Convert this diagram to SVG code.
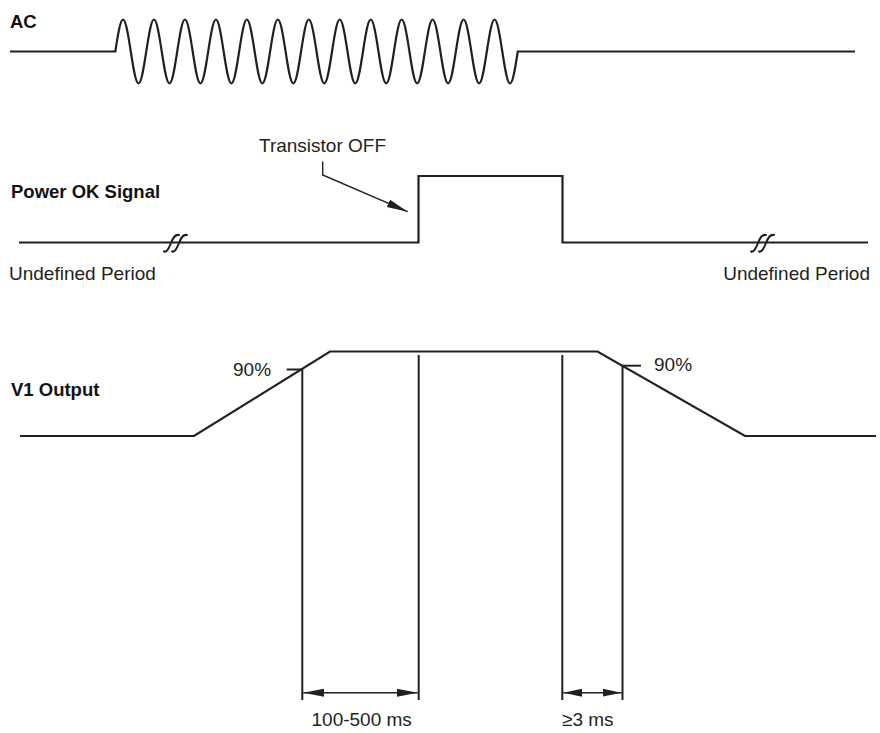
<svg xmlns="http://www.w3.org/2000/svg" width="880" height="733" viewBox="0 0 880 733">
  <defs>
    <style>
      .sig { fill: none; stroke: #231f20; stroke-width: 2.2; stroke-linejoin: miter; }
      .ln { fill: none; stroke: #231f20; stroke-width: 2; }
      .thin { fill: none; stroke: #231f20; stroke-width: 1.4; }
      .brk { fill: none; stroke: #231f20; stroke-width: 2; stroke-linecap: round; }
      .lbl { font-family: "Liberation Sans", Arial, sans-serif; font-size: 18.5px; font-weight: bold; fill: #111; }
      .txt { font-family: "Liberation Sans", Arial, sans-serif; font-size: 19px; fill: #231f20; }
    </style>
    <marker id="arr" markerUnits="userSpaceOnUse" markerWidth="22" markerHeight="10" refX="21" refY="4" orient="auto-start-reverse">
      <path d="M0,0 L21,4 L0,8 z" fill="#231f20"/>
    </marker>
    <marker id="arrs" markerUnits="userSpaceOnUse" markerWidth="20" markerHeight="10" refX="19" refY="4" orient="auto-start-reverse">
      <path d="M0,0 L19,4 L0,8 z" fill="#231f20"/>
    </marker>
  </defs>
  <rect width="880" height="733" fill="#ffffff"/>

  <g id="ac">
    <text class="lbl" x="10" y="28">AC</text>
    <path class="sig" d="M10,51.5 H115.3
      c2.72,-17.67 5.02,-32 7.74,-32 c2.72,0 5.02,14.33 7.74,32 c2.72,17.67 5.02,32 7.74,32 c2.72,0 5.02,-14.33 7.74,-32
      c2.72,-17.67 5.02,-32 7.74,-32 c2.72,0 5.02,14.33 7.74,32 c2.72,17.67 5.02,32 7.74,32 c2.72,0 5.02,-14.33 7.74,-32
      c2.72,-17.67 5.02,-32 7.74,-32 c2.72,0 5.02,14.33 7.74,32 c2.72,17.67 5.02,32 7.74,32 c2.72,0 5.02,-14.33 7.74,-32
      c2.72,-17.67 5.02,-32 7.74,-32 c2.72,0 5.02,14.33 7.74,32 c2.72,17.67 5.02,32 7.74,32 c2.72,0 5.02,-14.33 7.74,-32
      c2.72,-17.67 5.02,-32 7.74,-32 c2.72,0 5.02,14.33 7.74,32 c2.72,17.67 5.02,32 7.74,32 c2.72,0 5.02,-14.33 7.74,-32
      c2.72,-17.67 5.02,-32 7.74,-32 c2.72,0 5.02,14.33 7.74,32 c2.72,17.67 5.02,32 7.74,32 c2.72,0 5.02,-14.33 7.74,-32
      c2.72,-17.67 5.02,-32 7.74,-32 c2.72,0 5.02,14.33 7.74,32 c2.72,17.67 5.02,32 7.74,32 c2.72,0 5.02,-14.33 7.74,-32
      c2.72,-17.67 5.02,-32 7.74,-32 c2.72,0 5.02,14.33 7.74,32 c2.72,17.67 5.02,32 7.74,32 c2.72,0 5.02,-14.33 7.74,-32
      c2.72,-17.67 5.02,-32 7.74,-32 c2.72,0 5.02,14.33 7.74,32 c2.72,17.67 5.02,32 7.74,32 c2.72,0 5.02,-14.33 7.74,-32
      c2.72,-17.67 5.02,-32 7.74,-32 c2.72,0 5.02,14.33 7.74,32 c2.72,17.67 5.02,32 7.74,32 c2.72,0 5.02,-14.33 7.74,-32
      c2.72,-17.67 5.02,-32 7.74,-32 c2.72,0 5.02,14.33 7.74,32 c2.72,17.67 5.02,32 7.74,32 c2.72,0 5.02,-14.33 7.74,-32
      c2.72,-17.67 5.02,-32 7.74,-32 c2.72,0 5.02,14.33 7.74,32 c2.72,17.67 5.02,32 7.74,32 c2.72,0 5.02,-14.33 7.74,-32
      c2.72,-17.67 5.02,-32 7.74,-32 c2.72,0 5.02,14.33 7.74,32 c2.72,17.67 5.02,32 7.74,32 c2.72,0 5.02,-14.33 7.74,-32
      H855"/>
  </g>

  <g id="power-ok">
    <text class="lbl" x="11" y="198">Power OK Signal</text>
    <text class="txt" x="259" y="152">Transistor OFF</text>
    <path class="sig" d="M19,242.5 H418.5 V176 H562.5 V242.5 H868"/>
    <path class="brk" d="M164,251.5 C167,252.5 169,248 171,243 C173,238 175,234 179,235"/>
    <path class="brk" d="M172,251.5 C175,252.5 177,248 179,243 C181,238 183,234 187,235"/>
    <path class="brk" d="M751,251.5 C754,252.5 756,248 758,243 C760,238 762,234 766,235"/>
    <path class="brk" d="M759,251.5 C762,252.5 764,248 766,243 C768,238 770,234 774,235"/>
    <text class="txt" x="9" y="280">Undefined Period</text>
    <text class="txt" x="870" y="280" text-anchor="end">Undefined Period</text>
  </g>

  <g id="v1-output">
    <text class="lbl" x="11" y="396">V1 Output</text>
    <path class="sig" d="M20,436 H194 L330,351.5 H597.5 L745,436 H876"/>
    <path class="ln" d="M286.7,369.5 H302.5"/>
    <path class="ln" d="M622.5,365.7 H641"/>
    <text class="txt" x="233" y="376">90%</text>
    <text class="txt" x="654" y="371">90%</text>
  </g>

  <g id="connectors">
    <path class="ln" d="M302.3,369 V700"/>
    <path class="ln" d="M418.7,355 V700"/>
    <path class="ln" d="M562.3,355 V700"/>
    <path class="ln" d="M622.5,365.7 V700"/>
    <path class="thin" d="M322.7,161.5 V175 L407.7,211.7" marker-end="url(#arr)"/>
    <path class="thin" d="M303.3,692.7 H417.7" marker-start="url(#arr)" marker-end="url(#arr)"/>
    <path class="thin" d="M563.3,692.7 H621.5" marker-start="url(#arrs)" marker-end="url(#arrs)"/>
  </g>

  <g id="dimension-labels">
    <text class="txt" x="311.5" y="726">100-500 ms</text>
    <text class="txt" x="562" y="726">≥3 ms</text>
  </g>
</svg>
